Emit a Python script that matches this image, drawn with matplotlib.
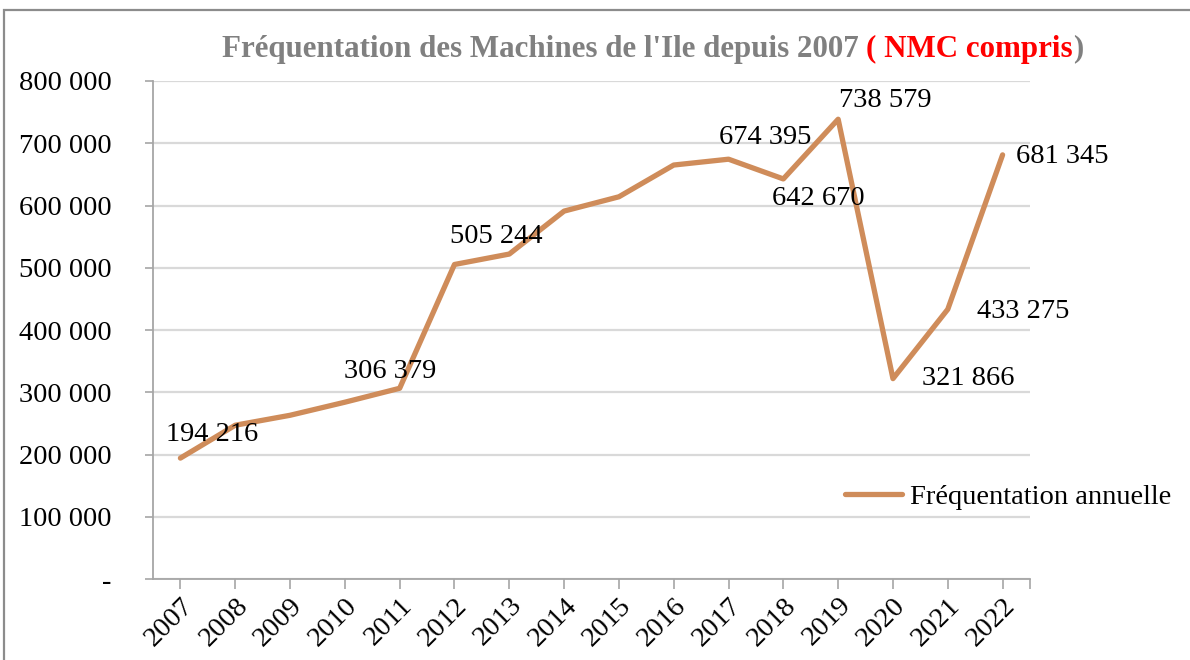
import matplotlib
matplotlib.use("Agg")
import matplotlib.pyplot as plt
from matplotlib.patches import Rectangle
from matplotlib.ticker import FuncFormatter

years = ["2007", "2008", "2009", "2010", "2011", "2012", "2013", "2014",
         "2015", "2016", "2017", "2018", "2019", "2020", "2021", "2022"]
visits = [194216, 247000, 263000, 284000, 306379, 505244, 522000, 591000,
          614000, 665000, 674395, 642670, 738579, 321866, 433275, 681345]
labelled = {"2007": 194216, "2011": 306379, "2012": 505244, "2017": 674395,
            "2018": 642670, "2019": 738579, "2020": 321866, "2021": 433275,
            "2022": 681345}
series_name = "Fréquentation annuelle"
title_main = "Fréquentation des Machines de l'Ile depuis 2007 "
title_red = "( NMC compris"
title_end = ")"

# label offsets in pixels (dx, dy) relative to the data point
offsets = {"2007": (32, 24), "2011": (-10, 17), "2012": (42, 28), "2017": (37, 22),
           "2018": (35, -20), "2019": (47, 19), "2020": (75, 0), "2021": (75, -2),
           "2022": (60, -2)}

W, H = 1190, 660
fig = plt.figure(figsize=(W / 100, H / 100), dpi=100)
plt.rcParams['font.family'] = ['Liberation Serif', 'DejaVu Serif']
FS = 20.5

ax = fig.add_axes([153 / W, 1 - 579 / H, (1030 - 153) / W, (579 - 81) / H])
x = list(range(len(years)))
line_color = "#CF8C5A"
ax.plot(x, visits, color=line_color, lw=3.8, solid_joinstyle='round',
        solid_capstyle='round', label=series_name, zorder=3)

ax.set_xlim(-0.5, len(years) - 0.5)
ax.set_ylim(0, 800000)
ax.set_yticks(range(0, 800001, 100000))
ax.yaxis.set_major_formatter(FuncFormatter(
    lambda v, p: "-" if v == 0 else f"{int(v):,}".replace(",", " ")))
ax.grid(axis='y', color="#D9D9D9", lw=1.6, zorder=0)
ax.set_axisbelow(True)
for s in ["top", "right"]:
    ax.spines[s].set_visible(False)
for s in ["left", "bottom"]:
    ax.spines[s].set_color("#A6A6A6")
    ax.spines[s].set_linewidth(1.3)
ax.tick_params(axis='y', length=6, width=1.2, color="#A6A6A6", pad=24,
               labelsize=FS, labelcolor="black")
ax.set_xticks(x + [len(years) - 0.5])
ax.set_xticklabels(years + [""])
ax.tick_params(axis='x', length=7, width=1.2, color="#A6A6A6", pad=3,
               labelsize=FS, labelcolor="black")
for lab in ax.get_xticklabels():
    lab.set_rotation(45)
    lab.set_ha('right')
    lab.set_va('top')
    lab.set_rotation_mode('anchor')

for yr, val in labelled.items():
    i = years.index(yr)
    dx, dy = offsets[yr]
    ax.annotate(f"{val:,}".replace(",", " "), (i, val), xytext=(dx, dy),
                textcoords='offset pixels', ha='center', va='center',
                fontsize=FS, color='black', zorder=4)

leg = fig.legend(loc='center left', bbox_to_anchor=(845 / W, 1 - 497 / H),
                 frameon=False, fontsize=FS, handlelength=2.0, handletextpad=0.3,
                 borderaxespad=0, borderpad=0)

# outer frame
fig.patches.append(Rectangle((4 / W, -0.1), 1.2, 1 - 10 / H + 0.1,
                             transform=fig.transFigure, fill=False,
                             edgecolor="#8C8C8C", lw=1.6))

# title in parts
fig.canvas.draw()
r = fig.canvas.get_renderer()
ty = 1 - 49 / H
TFS = 22.3
t1 = fig.text(222 / W, ty, title_main, color="#808080", fontsize=TFS,
              fontweight='bold', va='center', ha='left')
bb = t1.get_window_extent(r)
t2 = fig.text(bb.x1 / W, ty, title_red, color="#FF0000", fontsize=TFS,
              fontweight='bold', va='center', ha='left')
bb2 = t2.get_window_extent(r)
fig.text(bb2.x1 / W, ty, title_end, color="#808080", fontsize=TFS,
         fontweight='bold', va='center', ha='left')

fig.savefig("out.png", dpi=100)
